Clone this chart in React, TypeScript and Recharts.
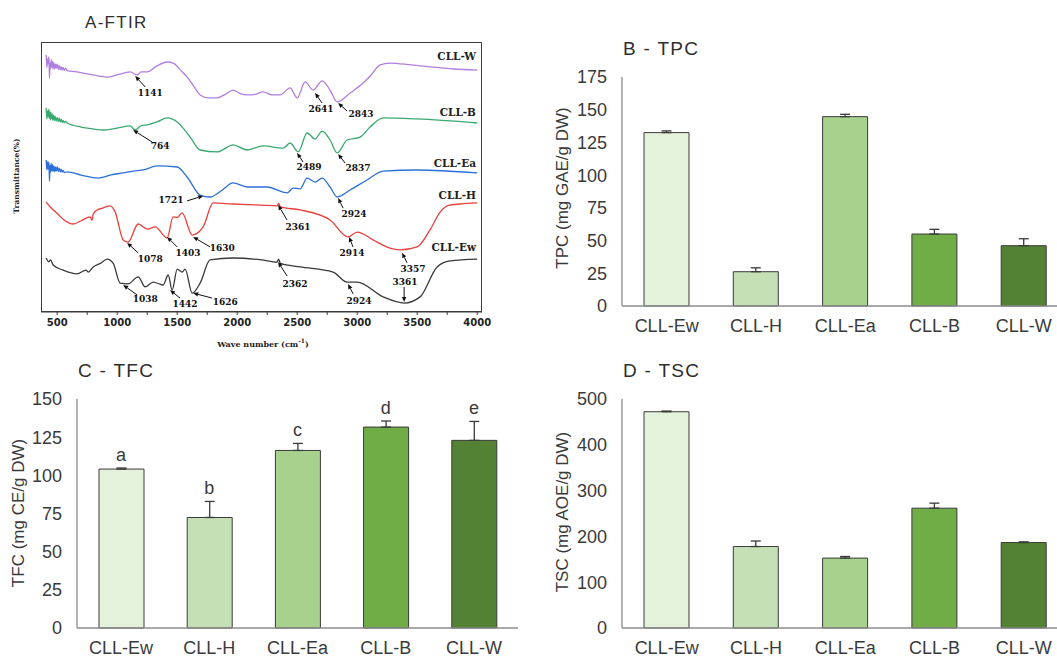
import React from "react";
import {
  LineChart,
  Line,
  BarChart,
  Bar,
  Cell,
  ErrorBar,
  XAxis,
  YAxis,
  ReferenceDot,
} from "recharts";

// ---------- FTIR spectra: [wavenumber (cm-1), offset transmittance] ----------
const ftirW: [number, number][] = [
  [408, 95.2], [414, 90.5], [420, 93.8], [425, 92.0], [430, 94.5], [433, 91.0], [436, 86.5], [440, 92.2],
  [444, 90.0], [450, 93.5], [455, 90.6], [460, 92.8], [466, 90.1], [472, 92.4], [478, 90.0], [485, 91.8],
  [491, 90.2], [500, 91.9], [508, 89.8], [516, 91.3], [525, 89.7], [533, 90.9], [541, 89.6], [550, 90.6],
  [558, 89.5], [570, 90.2], [583, 89.4], [650, 89.0], [750, 88.2], [850, 87.4], [917, 87.0], [1000, 87.8],
  [1108, 88.9], [1166, 87.8], [1200, 88.9], [1250, 88.9], [1316, 90.7], [1416, 92.6], [1466, 92.2],
  [1530, 89.5], [1583, 87.0], [1640, 83.5], [1691, 80.4], [1760, 79.3], [1833, 79.3], [1900, 80.6],
  [1966, 82.2], [2020, 81.0], [2083, 80.4], [2150, 80.6], [2216, 81.5], [2290, 80.4], [2358, 80.4],
  [2441, 83.0], [2500, 79.3], [2566, 85.2], [2633, 82.2], [2708, 85.6], [2774, 82.2], [2833, 77.8],
  [2941, 81.1], [3049, 84.8], [3110, 87.5], [3191, 91.5], [3274, 92.2], [3450, 91.5], [3632, 90.7],
  [3800, 90.0], [4000, 89.6],
];
const ftirB: [number, number][] = [
  [408, 75.6], [414, 71.5], [420, 74.5], [425, 72.4], [430, 75.0], [433, 71.8], [438, 74.2], [442, 71.2],
  [447, 73.9], [452, 71.6], [458, 73.4], [464, 71.0], [470, 72.9], [475, 70.9], [482, 72.5], [491, 70.7],
  [500, 72.1], [508, 70.5], [516, 71.8], [525, 70.4], [533, 71.4], [541, 70.2], [550, 71.0], [558, 70.1],
  [570, 70.6], [583, 70.0], [700, 68.5], [800, 67.8], [883, 67.4], [1000, 68.1], [1108, 68.9],
  [1150, 67.4], [1200, 69.0], [1250, 69.3], [1333, 70.4], [1416, 71.9], [1500, 70.4], [1608, 64.8],
  [1691, 60.0], [1833, 59.3], [1966, 61.9], [2083, 60.0], [2216, 61.5], [2383, 60.7], [2441, 62.6],
  [2508, 59.3], [2583, 66.3], [2649, 64.1], [2708, 67.0], [2774, 63.7], [2833, 58.9], [2916, 63.7],
  [3024, 64.8], [3107, 68.5], [3216, 71.9], [3499, 71.5], [4000, 70.0],
];
const ftirEa: [number, number][] = [
  [408, 56.3], [414, 52.6], [420, 55.6], [425, 53.0], [430, 55.5], [433, 52.4], [436, 48.5], [440, 54.2],
  [444, 51.7], [450, 55.0], [455, 52.3], [460, 54.6], [466, 52.0], [472, 54.1], [478, 52.0], [485, 53.7],
  [491, 52.1], [500, 53.8], [508, 52.0], [516, 53.3], [525, 51.9], [533, 52.9], [541, 51.8], [550, 52.4],
  [560, 51.6], [583, 51.9], [700, 50.7], [841, 49.6], [950, 50.8], [1050, 51.5], [1133, 52.2],
  [1216, 52.6], [1333, 54.1], [1500, 53.7], [1583, 50.0], [1691, 43.3], [1774, 42.6], [1870, 45.0],
  [1966, 47.8], [2083, 46.3], [2249, 46.3], [2416, 44.1], [2466, 45.9], [2524, 45.6], [2583, 49.6],
  [2649, 48.1], [2708, 49.6], [2774, 46.3], [2833, 42.6], [2941, 45.2], [3082, 48.9], [3216, 52.2],
  [3499, 52.6], [4000, 51.5],
];
const ftirH: [number, number][] = [
  [408, 40.7], [442, 38.9], [500, 36.5], [560, 34.0], [633, 32.6], [700, 33.8], [775, 35.2], [790, 34.0],
  [800, 36.3], [833, 37.8], [880, 38.5], [941, 39.3], [983, 37.0], [1050, 26.7], [1091, 25.9],
  [1175, 32.6], [1250, 30.7], [1316, 31.5], [1416, 27.4], [1466, 35.2], [1500, 35.0], [1541, 36.7],
  [1625, 28.5], [1716, 31.5], [1800, 40.4], [1966, 40.0], [2200, 39.6], [2333, 39.3], [2345, 40.2],
  [2360, 38.9], [2524, 37.8], [2774, 34.1], [2924, 27.8], [3000, 29.6], [3133, 26.7], [3250, 24.0],
  [3357, 23.0], [3499, 24.1], [3607, 30.4], [3691, 37.0], [3760, 39.5], [3857, 40.0], [4000, 40.4],
];
const ftirEw: [number, number][] = [
  [408, 20.0], [430, 18.6], [445, 19.3], [466, 17.4], [550, 15.5], [666, 14.1], [740, 15.5], [760, 14.8],
  [800, 16.7], [860, 18.0], [917, 19.6], [966, 18.1], [1025, 10.7], [1091, 10.4], [1175, 13.0],
  [1233, 9.3], [1300, 11.1], [1383, 10.0], [1425, 13.7], [1458, 8.1], [1500, 15.9], [1541, 14.8],
  [1566, 15.9], [1625, 7.0], [1691, 10.7], [1774, 19.3], [1966, 20.0], [2200, 19.3], [2333, 18.5],
  [2345, 19.6], [2360, 18.0], [2524, 16.7], [2799, 14.8], [2916, 11.1], [3000, 11.1], [3216, 5.6],
  [3391, 3.3], [3524, 5.6], [3666, 16.7], [3774, 18.9], [4000, 19.6],
];

const ftirNames = ["CLL-W", "CLL-B", "CLL-Ea", "CLL-H", "CLL-Ew"];
const ftirNameY = [94.8, 74.1, 55.2, 43.3, 24.1];
const ftirTicks = [500, 750, 1000, 1250, 1500, 1750, 2000, 2250, 2500, 2750, 3000, 3250, 3500, 3750, 4000];

// peak labels and where their arrows point
const peakText = ["1141", "2641", "2843", "764", "2489", "2837", "1721", "2924", "2361", "1078",
  "1403", "1630", "2914", "3357", "3361", "2362", "2924", "1038", "1442", "1626"];
const peakX = [1150, 2649, 2841, 1133, 2499, 2841, 1716, 2841, 2341, 1083,
  1416, 1633, 2932, 3374, 3391, 2341, 2924, 1050, 1441, 1633];
const peakY = [87.4, 81.1, 77.4, 67.4, 58.9, 58.5, 43.0, 42.2, 39.6, 25.6,
  27.8, 27.8, 27.8, 21.9, 3.7, 18.5, 10.4, 10.0, 8.1, 7.0];
// layout: arrow tail dx, dy and label dx, dy (px from arrow tip)
const peakOffsets = [
  [10, 11, 15, 17], [7, 10, 6, 16], [9, 8, 23, 11], [19, 12, 27, 16], [6, 9, 12, 14],
  [7, 9, 20, 14], [-16, 5, -32, 4], [5, 10, 16, 16], [9, 15, 20, 22], [11, 10, 23, 16],
  [10, 10, 21, 16], [17, 10, 29, 11], [4, 10, 3, 16], [5, 10, 11, 16], [0, -15, 1, -20],
  [9, 14, 17, 22], [5, 10, 11, 17], [14, 10, 22, 14], [10, 8, 15, 14], [19, 5, 32, 9],
];

// ---------- bar panels ----------
const categories = ["CLL-Ew", "CLL-H", "CLL-Ea", "CLL-B", "CLL-W"];
const barColors = ["#e4f2dc", "#c5e0b4", "#a9d18e", "#70ad47", "#548235"];

const tpcMean = [132.5, 26.2, 144.7, 55.0, 46.1];
const tpcErr = [1.3, 3.0, 1.8, 3.6, 5.3];
const tpcTicks = [0, 25, 50, 75, 100, 125, 150, 175];

const tfcMean = [104.1, 72.4, 116.3, 131.6, 122.9];
const tfcErr = [0.7, 10.5, 4.6, 4.0, 12.4];
const tfcLetters = ["a", "b", "c", "d", "e"];
const tfcTicks = [0, 25, 50, 75, 100, 125, 150];

const tscMean = [472.2, 177.9, 152.6, 261.6, 186.6];
const tscErr = [1.5, 12.0, 3.5, 11.0, 1.5];
const tscTicks = [0, 100, 200, 300, 400, 500];

const toPts = (arr: [number, number][]) => arr.map(([x, y]) => ({ x, y }));
const spectra = [
  { name: "CLL-W", pts: toPts(ftirW), color: "#b07fe0" },
  { name: "CLL-B", pts: toPts(ftirB), color: "#3aa96e" },
  { name: "CLL-Ea", pts: toPts(ftirEa), color: "#2b6fd8" },
  { name: "CLL-H", pts: toPts(ftirH), color: "#e8403c" },
  { name: "CLL-Ew", pts: toPts(ftirEw), color: "#3a3a3a" },
];

const serif = '"DejaVu Serif", "Liberation Serif", serif';
const sans = '"Liberation Sans", Arial, sans-serif';
const frame = "#3c3c3c";

function PeakMark(props: any) {
  const { cx, cy, text, o } = props;
  if (cx == null || cy == null) return null;
  const [tx, ty, lx, ly] = o;
  const x1 = cx + tx;
  const y1 = cy + ty;
  const ang = Math.atan2(cy - y1, cx - x1);
  const L = 5;
  const W = 2.2;
  const bx = cx - L * Math.cos(ang);
  const by = cy - L * Math.sin(ang);
  const px = -Math.sin(ang) * W;
  const py = Math.cos(ang) * W;
  return (
    <g>
      <line x1={x1} y1={y1} x2={bx} y2={by} stroke="#111" strokeWidth={1} />
      <polygon points={`${cx},${cy} ${bx + px},${by + py} ${bx - px},${by - py}`} fill="#111" />
      <text x={cx + lx} y={cy + ly} textAnchor="middle" dominantBaseline="central"
        fontFamily={serif} fontWeight="bold" fontSize={9} fill="#111">
        {text}
      </text>
    </g>
  );
}

function NameMark(props: any) {
  const { cx, cy, text } = props;
  if (cx == null || cy == null) return null;
  return (
    <text x={cx} y={cy} textAnchor="end" dominantBaseline="central"
      fontFamily={serif} fontWeight="bold" fontSize={10.5} fill="#222">
      {text}
    </text>
  );
}

function FtirPanel() {
  return (
    <div style={{ position: "absolute", left: 0, top: 0 }}>
      <LineChart width={500} height={357} margin={{ top: 42, right: 18, left: 41, bottom: 15 }}>
        <XAxis
          type="number"
          dataKey="x"
          domain={[365, 4040]}
          allowDataOverflow
          ticks={ftirTicks}
          tickFormatter={(v) => (v % 500 === 0 ? String(v) : "")}
          tickSize={3}
          tickMargin={4}
          height={30}
          axisLine={{ stroke: frame }}
          tickLine={{ stroke: frame }}
          tick={{ fontSize: 10, fontFamily: '"DejaVu Sans", sans-serif', fontWeight: "bold", fill: "#222" }}
        />
        <YAxis type="number" domain={[0, 100]} allowDataOverflow hide />
        {spectra.map((s) => (
          <Line
            key={s.name}
            data={s.pts}
            dataKey="y"
            type="monotone"
            stroke={s.color}
            strokeWidth={1.3}
            dot={false}
            isAnimationActive={false}
          />
        ))}
        {peakText.map((t, i) => (
          <ReferenceDot
            key={"p" + i}
            x={peakX[i]}
            y={peakY[i]}
            r={0}
            ifOverflow="visible"
            shape={(p: any) => <PeakMark {...p} text={t} o={peakOffsets[i]} />}
          />
        ))}
        {ftirNames.map((n, i) => (
          <ReferenceDot
            key={"n" + i}
            x={3990}
            y={ftirNameY[i]}
            r={0}
            ifOverflow="visible"
            shape={(p: any) => <NameMark {...p} text={n} />}
          />
        ))}
      </LineChart>
      {/* plot frame */}
      <div
        style={{
          position: "absolute",
          left: 41,
          top: 42,
          width: 441,
          height: 270,
          border: `1px solid ${frame}`,
          boxSizing: "border-box",
          pointerEvents: "none",
        }}
      />
    </div>
  );
}

interface BarPanelProps {
  left: number;
  top: number;
  width: number;
  height: number;
  margin: { top: number; right: number; left: number; bottom: number };
  xHeight: number;
  means: number[];
  errs: number[];
  ticks: number[];
  letters?: string[];
}

function BarPanel({ left, top, width, height, margin, xHeight, means, errs, ticks, letters }: BarPanelProps) {
  const data = categories.map((c, i) => ({ name: c, value: means[i], err: [0, errs[i]] }));
  return (
    <div style={{ position: "absolute", left, top }}>
      <BarChart width={width} height={height} data={data} margin={margin}>
        <XAxis
          dataKey="name"
          tickLine={false}
          height={xHeight}
          tickMargin={7}
          stroke="#8c8c8c"
          strokeWidth={1.3}
          tick={{ fontSize: 18, fill: "#3a3a3a", fontFamily: sans }}
        />
        <YAxis
          domain={[ticks[0], ticks[ticks.length - 1]]}
          ticks={ticks}
          width={60}
          tickLine={false}
          tickMargin={9}
          stroke="#8c8c8c"
          strokeWidth={1.3}
          tick={{ fontSize: 18, fill: "#3a3a3a", fontFamily: sans }}
        />
        <Bar dataKey="value" barSize={45} stroke="#3a3a3a" strokeWidth={1} isAnimationActive={false}>
          {data.map((d, i) => (
            <Cell key={d.name} fill={barColors[i]} />
          ))}
          <ErrorBar dataKey="err" width={5} stroke="#3a3a3a" strokeWidth={1.3} />
        </Bar>
        {letters &&
          letters.map((l, i) => (
            <ReferenceDot
              key={l}
              x={categories[i]}
              y={means[i] + errs[i]}
              r={0}
              fill="none"
              stroke="none"
              ifOverflow="visible"
              label={{ value: l, position: "top", offset: 7, fontSize: 18, fill: "#3a3a3a", fontFamily: sans }}
            />
          ))}
      </BarChart>
    </div>
  );
}

const titleStyle: React.CSSProperties = {
  position: "absolute",
  fontFamily: sans,
  color: "#2e2e2e",
  lineHeight: 1,
  whiteSpace: "nowrap",
  letterSpacing: 1.3,
};

function VLabel({ x, y, text, size, font, bold }: { x: number; y: number; text: string; size: number; font: string; bold?: boolean }) {
  return (
    <div
      style={{
        position: "absolute",
        left: x,
        top: y,
        transform: "translate(-50%, -50%) rotate(-90deg)",
        whiteSpace: "nowrap",
        fontSize: size,
        fontFamily: font,
        fontWeight: bold ? "bold" : "normal",
        color: bold ? "#222" : "#3a3a3a",
        lineHeight: 1,
      }}
    >
      {text}
    </div>
  );
}

export default function App() {
  return (
    <div style={{ position: "absolute", left: 0, top: 0, width: 1057, height: 657, overflow: "hidden", background: "#fff" }}>
      <div style={{ ...titleStyle, left: 85, top: 14, fontSize: 17 }}>A-FTIR</div>
      <div style={{ ...titleStyle, left: 623, top: 39, fontSize: 19 }}>B - TPC</div>
      <div style={{ ...titleStyle, left: 78, top: 361, fontSize: 19 }}>C - TFC</div>
      <div style={{ ...titleStyle, left: 623, top: 361, fontSize: 19 }}>D - TSC</div>

      <FtirPanel />
      <VLabel x={17} y={176} text="Transmittance(%)" size={7.5} font={serif} bold />
      <div
        style={{
          position: "absolute",
          left: 263,
          top: 343,
          transform: "translate(-50%, -50%)",
          fontFamily: serif,
          fontWeight: "bold",
          fontSize: 8,
          color: "#222",
          whiteSpace: "nowrap",
          lineHeight: 1,
        }}
      >
        Wave number (cm<sup style={{ fontSize: 6 }}>-1</sup>)
      </div>

      <BarPanel
        left={540}
        top={30}
        width={540}
        height={320}
        margin={{ top: 47, right: 11.5, left: 22, bottom: 14 }}
        xHeight={30}
        means={tpcMean}
        errs={tpcErr}
        ticks={tpcTicks}
      />
      <VLabel x={562} y={188} text="TPC (mg GAE/g DW)" size={17} font={sans} />

      <BarPanel
        left={0}
        top={350}
        width={530}
        height={307}
        margin={{ top: 49, right: 12, left: 17, bottom: 0 }}
        xHeight={29}
        means={tfcMean}
        errs={tfcErr}
        ticks={tfcTicks}
        letters={tfcLetters}
      />
      <VLabel x={18} y={513} text="TFC (mg CE/g DW)" size={17} font={sans} />

      <BarPanel
        left={540}
        top={350}
        width={540}
        height={307}
        margin={{ top: 49, right: 11.5, left: 22, bottom: 0 }}
        xHeight={29}
        means={tscMean}
        errs={tscErr}
        ticks={tscTicks}
      />
      <VLabel x={562} y={512} text="TSC (mg AOE/g DW)" size={17} font={sans} />
    </div>
  );
}
